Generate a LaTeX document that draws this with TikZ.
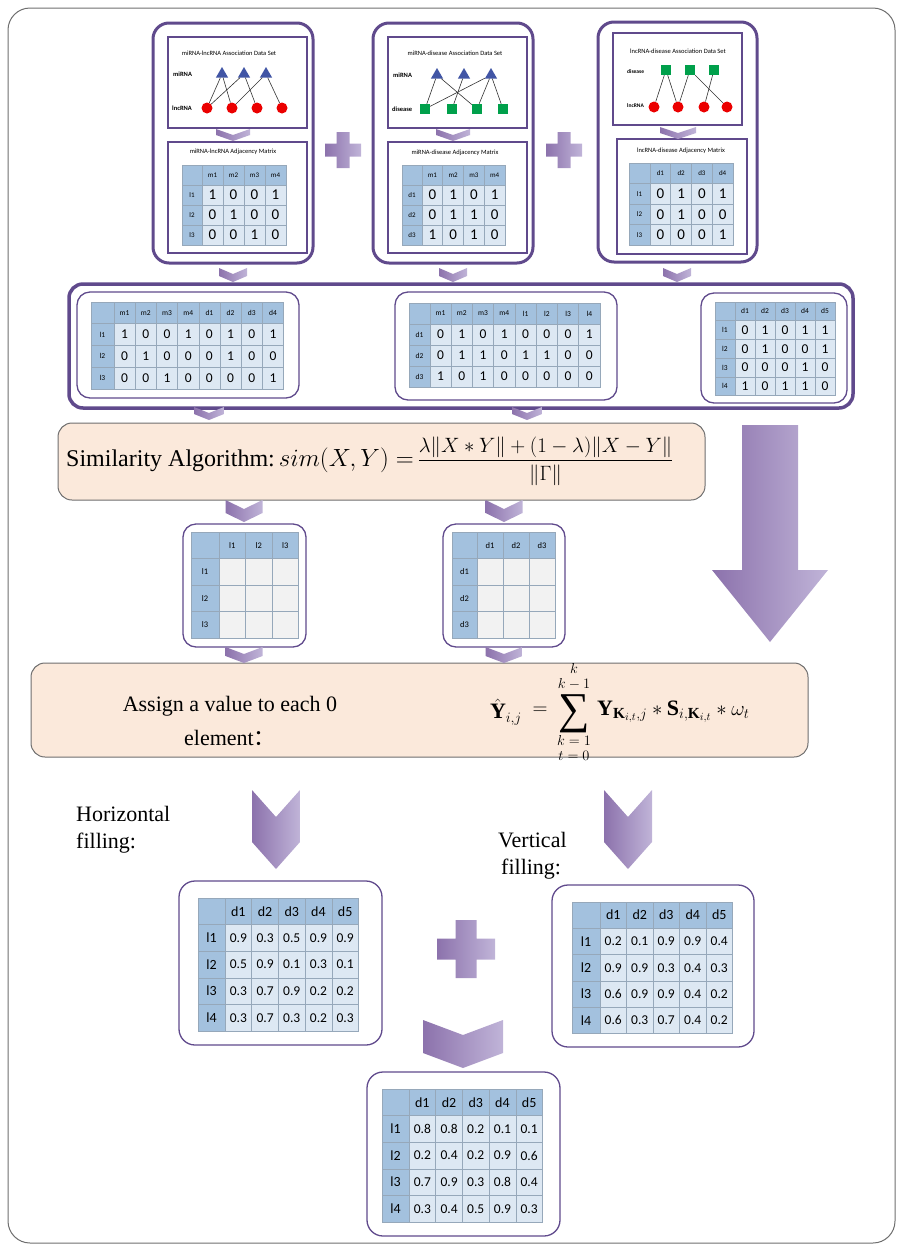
\documentclass[tikz,border=0pt]{standalone}
\usepackage{amsmath}
\usepackage{fontspec}
\setmainfont{Liberation Serif}
\newfontfamily\tabfont{Carlito}
\newfontfamily\cjkfont{Noto Sans CJK SC}
\usetikzlibrary{shapes.geometric}
\definecolor{pur}{RGB}{96,74,140}
\definecolor{hdrC}{RGB}{163,193,222}
\definecolor{datC}{RGB}{221,232,243}
\definecolor{grayC}{RGB}{242,242,242}
\definecolor{gridC}{RGB}{150,168,186}
\definecolor{peach}{RGB}{251,233,219}
\definecolor{chvA}{RGB}{140,114,172}
\definecolor{chvB}{RGB}{192,180,216}
\definecolor{triC}{RGB}{65,85,165}
\definecolor{redC}{RGB}{235,0,0}
\definecolor{grnC}{RGB}{0,160,75}
\definecolor{frameC}{RGB}{110,110,110}
\newcommand{\Tab}[9]{%
  \path[draw=gridC, line width=0.6, fill=hdrC] (#2,#3) rectangle ++(#4,#6);
  \foreach \h [count=\c] in {#7} {
    \path[draw=gridC, line width=0.6, fill=hdrC] ({#2+#4+(\c-1)*#5},#3) rectangle ++(#5,#6);
    \node[hT] (#1-h\c) at ({#2+#4+(\c-0.5)*#5},{#3+0.5*#6}) {\h};
  }
  \foreach \rl/\vals [count=\r] in {#8} {
    \path[draw=gridC, line width=0.6, fill=hdrC] (#2,{#3+\r*#6}) rectangle ++(#4,#6);
    \node[hT] (#1-r\r) at ({#2+0.5*#4},{#3+(\r+0.5)*#6}) {\rl};
    \foreach \v [count=\c] in \vals {
      \path[draw=gridC, line width=0.6, fill=#9] ({#2+#4+(\c-1)*#5},{#3+\r*#6}) rectangle ++(#5,#6);
      \node[dT] (#1-\r-\c) at ({#2+#4+(\c-0.5)*#5},{#3+(\r+0.5)*#6}) {\v};
    }
  }
}
\newcommand{\Chev}[5]{\shade[left color=chvA, right color=chvB] (#1-#3,#2) -- (#1,#2+#4) -- (#1+#3,#2) -- (#1+#3,#2+#5) -- (#1,#2+#4+#5) -- (#1-#3,#2+#5) -- cycle;}
\newcommand{\Plus}[4]{\shade[left color=chvA, right color=chvB] (#1-#4,#2-#3) -- (#1+#4,#2-#3) -- (#1+#4,#2-#4) -- (#1+#3,#2-#4) -- (#1+#3,#2+#4) -- (#1+#4,#2+#4) -- (#1+#4,#2+#3) -- (#1-#4,#2+#3) -- (#1-#4,#2+#4) -- (#1-#3,#2+#4) -- (#1-#3,#2-#4) -- (#1-#4,#2-#4) -- cycle;}
\tikzset{
  panel/.style={draw=pur, line width=3, rounded corners=16, fill=white},
  ibox/.style={draw=pur, line width=1.3},
  rbox/.style={draw=pur, line width=1.3, rounded corners=13},
  peachbox/.style={draw=frameC, line width=1, fill=peach, rounded corners=14},
  ttl/.style={font=\tabfont\fontsize{6.5}{7}\selectfont, inner sep=0},
  lab/.style={font=\tabfont\bfseries\fontsize{6.5}{7}\selectfont, inner sep=0, anchor=west},
  slab/.style={font=\tabfont\bfseries\fontsize{5.5}{6}\selectfont, inner sep=0, anchor=west},
  tri/.style={regular polygon, regular polygon sides=3, fill=triC, minimum size=14, inner sep=0},
  cir/.style={circle, fill=redC, minimum size=11, inner sep=0},
  sqr/.style={rectangle, fill=grnC, minimum size=10, inner sep=0},
  edge/.style={draw=black!80, line width=0.6},
  hT/.style={font=\tabfont\fontsize{7}{8}\selectfont, inner sep=0},
  dT/.style={font=\tabfont\fontsize{15}{16}\selectfont, inner sep=0},
  fm/.style={inner sep=0, font=\fontsize{22}{26}\selectfont},
  lim/.style={inner sep=0, align=center, font=\fontsize{14}{15}\selectfont}
}
\begin{document}
\begin{tikzpicture}[x=1pt,y=-1pt]
\useasboundingbox (0,0) rectangle (903,1251);
\draw[frameC, line width=1, rounded corners=22] (8,8) rectangle (895,1243);
% ---------- top panels ----------
\draw[panel] (153,23) rectangle (313,263);
\draw[ibox] (168,37) rectangle (307,128);
\draw[ibox] (168,142) rectangle (307,253);
\draw[panel] (373,23) rectangle (533,263);
\draw[ibox] (388,37) rectangle (527,128);
\draw[ibox] (388,142) rectangle (527,253);
\draw[panel] (598,22) rectangle (757,262);
\draw[ibox] (613,33) rectangle (742,125);
\draw[ibox] (617,139) rectangle (747,254);
% panel 1 graph
\node[ttl] (p1t) at (229,53) {miRNA-lncRNA Association Data Set};
\node[lab] (p1a) at (173,74) {miRNA};
\node[lab] (p1b) at (172,108) {lncRNA};
\node[tri] (p1t1) at (222,74) {};
\node[tri] (p1t2) at (244,74) {};
\node[tri] (p1t3) at (266,74) {};
\node[cir] (p1c1) at (207,108) {};
\node[cir] (p1c2) at (232,108) {};
\node[cir] (p1c3) at (257,108) {};
\node[cir] (p1c4) at (282,108) {};
\draw[edge] (p1t1) -- (p1c1); \draw[edge] (p1t1) -- (p1c2);
\draw[edge] (p1t2) -- (p1c1); \draw[edge] (p1t2) -- (p1c3);
\draw[edge] (p1t3) -- (p1c2); \draw[edge] (p1t3) -- (p1c4);
\node[ttl] (p1m) at (233,152) {miRNA-lncRNA Adjacency Matrix};
% panel 2 graph
\node[ttl] (p2t) at (455,53) {miRNA-disease Association Data Set};
\node[lab] (p2a) at (393,75) {miRNA};
\node[lab] (p2b) at (392,109) {disease};
\node[tri] (p2t1) at (437,75) {};
\node[tri] (p2t2) at (464,75) {};
\node[tri] (p2t3) at (491,75) {};
\node[sqr] (p2s1) at (425,109) {};
\node[sqr] (p2s2) at (452,109) {};
\node[sqr] (p2s3) at (477,109) {};
\node[sqr] (p2s4) at (503,109) {};
\draw[edge] (p2t1) -- (p2s1); \draw[edge] (p2t1) -- (p2s3);
\draw[edge] (p2t2) -- (p2s2);
\draw[edge] (p2t3) -- (p2s1); \draw[edge] (p2t3) -- (p2s3); \draw[edge] (p2t3) -- (p2s4);
\node[ttl] (p2m) at (455,153) {miRNA-disease Adjacency Matrix};
% panel 3 graph
\node[ttl] (p3t) at (678,51) {lncRNA-disease Association Data Set};
\node[slab] (p3a) at (627,72) {disease};
\node[slab] (p3b) at (627,106) {lncRNA};
\node[sqr] (p3s1) at (666,70) {};
\node[sqr] (p3s2) at (690,70) {};
\node[sqr] (p3s3) at (714,70) {};
\node[cir] (p3c1) at (654,107) {};
\node[cir] (p3c2) at (678,107) {};
\node[cir] (p3c3) at (704,107) {};
\node[cir] (p3c4) at (727,107) {};
\draw[edge] (p3s1) -- (p3c1); \draw[edge] (p3s1) -- (p3c2);
\draw[edge] (p3s2) -- (p3c2); \draw[edge] (p3s2) -- (p3c4);
\draw[edge] (p3s3) -- (p3c3);
\node[ttl] (p3m) at (681,151) {lncRNA-disease Adjacency Matrix};
% tables top
\Tab{ta}{182}{165}{20}{21}{20}{m1,m2,m3,m4}{l1/{1,0,0,1},l2/{0,1,0,0},l3/{0,0,1,0}}{datC}
\Tab{tb}{402}{165}{20}{20.75}{20}{m1,m2,m3,m4}{d1/{0,1,0,1},d2/{0,1,1,0},d3/{1,0,1,0}}{datC}
\Tab{tc}{629}{163}{21}{20.75}{20.5}{d1,d2,d3,d4}{l1/{0,1,0,1},l2/{0,1,0,0},l3/{0,0,0,1}}{datC}
\Chev{233}{129}{17}{6}{6}
\Chev{453}{129}{17}{6}{6}
\Chev{678}{127}{18}{6}{6}
\Plus{343}{150}{18}{6.5}
\Plus{564}{150}{18}{6.5}
% ---------- row 2 ----------
\draw[panel, line width=3.5, rounded corners=14] (69,284) rectangle (853,408);
\draw[rbox] (77,292) rectangle (299,398);
\draw[rbox] (395,292) rectangle (617,400);
\draw[rbox] (701,293) rectangle (847,403);
\begin{scope}[hT/.style={font=\tabfont\fontsize{7.5}{8}\selectfont, inner sep=0}, dT/.style={font=\tabfont\fontsize{13.5}{14}\selectfont, inner sep=0}]
\Tab{ra}{91}{302}{23}{21.2}{21.7}{m1,m2,m3,m4,d1,d2,d3,d4}{l1/{1,0,0,1,0,1,0,1},l2/{0,1,0,0,0,1,0,0},l3/{0,0,1,0,0,0,0,1}}{datC}
\Tab{rb}{409}{303}{21}{21.25}{21}{m1,m2,m3,m4,l1,l2,l3,l4}{d1/{0,1,0,1,0,0,0,1},d2/{0,1,1,0,1,1,0,0},d3/{1,0,1,0,0,0,0,0}}{datC}
\Tab{rc}{715}{302}{20}{20}{18.7}{d1,d2,d3,d4,d5}{l1/{0,1,0,1,1},l2/{0,1,0,0,1},l3/{0,0,0,1,0},l4/{1,0,1,1,0}}{datC}
\end{scope}
\Chev{233}{268}{14}{6}{8}
\Chev{453}{268}{14}{6}{8}
\Chev{677}{268}{14}{6}{8}
% ---------- similarity ----------
\draw[peachbox] (58,423) rectangle (705,500);
\Chev{209}{407}{15}{6}{7}
\Chev{527}{407}{15}{6}{7}
\node[anchor=west, inner sep=0, font=\fontsize{24}{28}\selectfont] (simtxt) at (66,461) {Similarity Algorithm:\,$sim(X,Y)=$\,{\fontsize{19.5}{23}\selectfont$\displaystyle\frac{\lambda\|X*Y\|+(1-\lambda)\|X-Y\|}{\|\Gamma\|}$}};
\shade[left color=chvA, right color=chvB] (742,425) -- (798,425) -- (798,570) -- (828,570) -- (770,642) -- (712,570) -- (742,570) -- cycle;
% similarity matrices
\draw[rbox] (183,524) rectangle (306,647);
\draw[rbox] (443,524) rectangle (565,647);
\begin{scope}[hT/.style={font=\tabfont\fontsize{8.5}{9}\selectfont, inner sep=0}]
\Tab{sa}{191}{532}{28}{26.5}{26.5}{l1,l2,l3}{l1/{~,~,~},l2/{~,~,~},l3/{~,~,~}}{grayC}
\Tab{sb}{452}{532}{25}{26}{26.5}{d1,d2,d3}{d1/{~,~,~},d2/{~,~,~},d3/{~,~,~}}{grayC}
\end{scope}
\Chev{244}{500}{18.5}{9}{13}
\Chev{504}{500}{18.5}{9}{13}
% ---------- assign ----------
\draw[peachbox] (31,663) rectangle (808,757);
\Chev{244}{647}{18.5}{7}{9}
\Chev{504}{647}{18.5}{7}{9}
\node[align=center, inner sep=0, font=\fontsize{22}{34}\selectfont] (asgn) at (230,721) {Assign a value to each 0\\element{\cjkfont ：}};
\node[fm, anchor=east] (fY) at (522,712) {$\hat{\mathbf Y}_{i,j}$};
\node[fm] (feq) at (540,711) {$=$};
\node[inner sep=0, font=\fontsize{44}{44}\selectfont] (fsum) at (574,714) {∑};
\node[lim, anchor=south] (fup) at (574,690) {$k$\\$k-1$};
\node[lim, anchor=north] (flo) at (574,735) {$k=1$\\$t=0$};
\node[fm, anchor=west] (frest) at (597,712) {$\mathbf Y_{\mathbf K_{i,t},j} * \mathbf S_{i,\mathbf K_{i,t}} * \omega_t$};
% ---------- filling ----------
\Chev{276}{790}{24}{27}{52}
\Chev{628}{790}{24}{27}{52}
\node[anchor=north west, align=left, inner sep=0, font=\fontsize{22}{27}\selectfont] (hf) at (76,806) {Horizontal\\filling:};
\node[anchor=north west, align=left, inner sep=0, font=\fontsize{22}{27}\selectfont] (vf) at (498,832) {Vertical\\\hspace*{3pt}filling:};
\draw[rbox, rounded corners=16] (179,881) rectangle (382,1045);
\draw[rbox, rounded corners=16] (552,885) rectangle (754,1047);
\draw[rbox, rounded corners=16] (367,1072) rectangle (560,1236);
\begin{scope}[hT/.style={font=\tabfont\fontsize{14}{15}\selectfont, inner sep=0}, dT/.style={font=\tabfont\fontsize{13.5}{14}\selectfont, inner sep=0}]
\Tab{ha}{198}{898}{27}{26.7}{26.6}{d1,d2,d3,d4,d5}{l1/{0.9,0.3,0.5,0.9,0.9},l2/{0.5,0.9,0.1,0.3,0.1},l3/{0.3,0.7,0.9,0.2,0.2},l4/{0.3,0.7,0.3,0.2,0.3}}{datC}
\Tab{va}{572}{902}{28}{26.5}{26.3}{d1,d2,d3,d4,d5}{l1/{0.2,0.1,0.9,0.9,0.4},l2/{0.9,0.9,0.3,0.4,0.3},l3/{0.6,0.9,0.9,0.4,0.2},l4/{0.6,0.3,0.7,0.4,0.2}}{datC}
\Tab{fa}{382}{1089}{27}{26.7}{26.6}{d1,d2,d3,d4,d5}{l1/{0.8,0.8,0.2,0.1,0.1},l2/{0.2,0.4,0.2,0.9,0.6},l3/{0.7,0.9,0.3,0.8,0.4},l4/{0.3,0.4,0.5,0.9,0.3}}{datC}
\end{scope}
\Plus{466}{949}{29}{10.5}
\Chev{463}{1020}{40}{15}{33}
\end{tikzpicture}
\end{document}
